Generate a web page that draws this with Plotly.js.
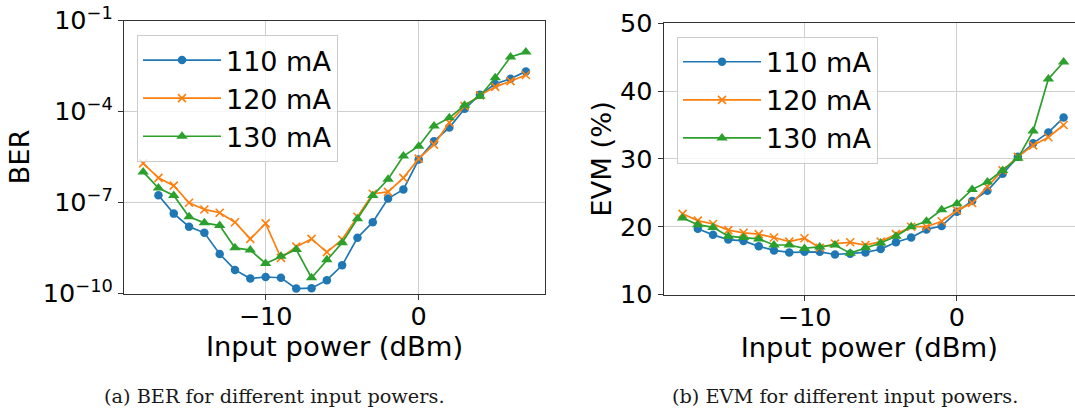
<!DOCTYPE html>
<html><head><meta charset="utf-8">
<script src="https://cdn.plot.ly/plotly-3.0.1.min.js"></script>
<style>html,body{margin:0;padding:0;background:#fff;overflow:hidden}</style>
</head><body>
<div id="chart" style="width:1075px;height:410px"></div>
<script>
// Input power (dBm)
const power = [-18,-17,-16,-15,-14,-13,-12,-11,-10,-9,-8,-7,-6,-5,-4,-3,-2,-1,0,1,2,3,4,5,6,7];
const seriesNames = ['110 mA', '120 mA', '130 mA'];

// BER (log scale)
const ber110 = [null,1.74e-7,4.3e-8,1.6e-8,1.0e-8,2.0e-9,6.0e-10,3.1e-10,3.5e-10,3.3e-10,1.45e-10,1.5e-10,2.75e-10,8.5e-10,6.9e-9,2.24e-8,1.35e-7,2.7e-7,2.6e-6,1.05e-5,2.95e-5,1.23e-4,3.6e-4,8.1e-4,1.2e-3,2.1e-3];
const ber120 = [1.95e-6,6.5e-7,3.6e-7,9.8e-8,5.9e-8,4.6e-8,2.24e-8,6.3e-9,2.04e-8,1.5e-9,3.5e-9,6.3e-9,2.3e-9,6.0e-9,3.4e-8,1.95e-7,2.24e-7,6.5e-7,2.8e-6,8.1e-6,4.3e-5,1.5e-4,3.4e-4,6.5e-4,1.0e-3,1.6e-3];
const ber130 = [1.02e-6,3.0e-7,1.7e-7,3.4e-8,2.14e-8,1.74e-8,3.2e-9,2.7e-9,9.8e-10,1.7e-9,2.8e-9,3.3e-10,1.3e-9,4.7e-9,2.9e-8,1.7e-7,5.8e-7,3.4e-6,7.2e-6,3.3e-5,6.2e-5,1.6e-4,3.2e-4,1.3e-3,6.3e-3,9.1e-3];

// EVM (%)
const evm110 = [null,19.7,18.8,18.1,17.9,17.1,16.5,16.2,16.3,16.3,15.9,16.0,16.2,16.7,17.7,18.4,19.6,20.1,22.2,23.8,25.3,27.8,30.3,32.3,33.9,36.1];
const evm120 = [21.9,20.9,20.4,19.5,19.1,18.9,18.4,17.8,18.3,16.9,17.5,17.7,17.3,17.8,18.9,20.0,20.0,20.8,22.4,23.5,25.9,28.3,30.3,32.0,33.2,35.0];
const evm130 = [21.3,20.3,19.9,18.6,18.4,18.2,17.3,17.3,16.8,17.0,17.3,16.1,16.9,17.6,18.6,20.0,20.8,22.5,23.4,25.5,26.6,28.3,30.1,34.1,41.8,44.3];

// Tick labels
const xTickVals = [-10, 0];
const xTickText = ['−10', '0'];
const berTickVals = [1e-10, 1e-7, 1e-4, 1e-1];
const berTickText = ['10<sup>−10</sup>', '10<sup>−7</sup>', '10<sup>−4</sup>', '10<sup>−1</sup>'];
const evmTickVals = [10, 20, 30, 40, 50];

const colors = ['#1f77b4', '#ff7f0e', '#2ca02c'];
const markers = [
  {symbol: 'circle', size: 8.5},
  {symbol: 'x-thin', size: 8, line: {width: 1.6}},
  {symbol: 'triangle-up', size: 10}
];

const W = 1075, H = 410;
const FONT = 'DejaVu Sans, sans-serif';
const tickFs = 25.5, titleFs = 27.4, legFs = 27;

function mk(y, i, xa, ya, leg) {
  const m = Object.assign({color: colors[i]}, markers[i]);
  if (m.line) m.line = Object.assign({}, m.line, {color: colors[i]});
  return {
    x: power, y: y, name: seriesNames[i], type: 'scatter', mode: 'lines+markers',
    xaxis: xa, yaxis: ya, legend: leg, legendgroup: leg + i,
    line: {color: colors[i], width: 1.7}, marker: m, connectgaps: false
  };
}

const data = [
  mk(ber110, 0, 'x', 'y', 'legend'), mk(ber120, 1, 'x', 'y', 'legend'), mk(ber130, 2, 'x', 'y', 'legend'),
  mk(evm110, 0, 'x2', 'y2', 'legend2'), mk(evm120, 1, 'x2', 'y2', 'legend2'), mk(evm130, 2, 'x2', 'y2', 'legend2')
];

const axCommon = {
  showline: true, linecolor: '#333', linewidth: 1,
  ticks: 'outside', ticklen: 5, tickwidth: 1, tickcolor: '#333',
  showgrid: true, gridcolor: '#cfcfcf', gridwidth: 1, zeroline: false,
  tickfont: {family: FONT, size: tickFs, color: '#000'},
  automargin: false
};

const legCommon = {
  font: {family: FONT, size: legFs, color: '#000'},
  bgcolor: 'rgba(255,255,255,0.8)', bordercolor: '#cccccc', borderwidth: 1,
  xanchor: 'left', yanchor: 'top', itemwidth: 78,
  traceorder: 'grouped', tracegroupgap: 0
};

const layout = {
  width: W, height: H,
  margin: {l: 0, r: 0, t: 0, b: 0},
  paper_bgcolor: '#fff', plot_bgcolor: '#fff',
  font: {family: FONT, size: tickFs, color: '#000'},
  showlegend: true,
  xaxis: Object.assign({}, axCommon, {
    domain: [124/W, 545/W], range: [-19.25, 8.25], mirror: true,
    tickmode: 'array', tickvals: xTickVals, ticktext: xTickText, ticklabelstandoff: -5,
    title: {text: 'Input power (dBm)', font: {family: FONT, size: titleFs}, standoff: 0},
    anchor: 'y'
  }),
  yaxis: Object.assign({}, axCommon, {
    domain: [1 - 293.5/H, 1 - 20.5/H], type: 'log', range: [-10, -1], mirror: true,
    tickmode: 'array', tickvals: berTickVals, ticktext: berTickText,
    title: {text: 'BER', font: {family: FONT, size: titleFs}, standoff: 5},
    anchor: 'x'
  }),
  xaxis2: Object.assign({}, axCommon, {
    domain: [663.5/W, 1], range: [-19.25, (W - 956.7)/15.27], mirror: true,
    tickmode: 'array', tickvals: xTickVals, ticktext: xTickText, ticklabelstandoff: -5,
    title: {text: 'Input power (dBm)', font: {family: FONT, size: titleFs}, standoff: 0},
    anchor: 'y2'
  }),
  yaxis2: Object.assign({}, axCommon, {
    domain: [1 - 294.5/H, 1 - 23.3/H], range: [10, 50], mirror: false,
    tickmode: 'array', tickvals: evmTickVals,
    title: {text: 'EVM (%)', font: {family: FONT, size: titleFs}, standoff: 0},
    anchor: 'x2'
  }),
  legend: Object.assign({}, legCommon, {x: 137/W, y: 1 - 35/H}),
  legend2: Object.assign({}, legCommon, {x: 677/W, y: 1 - 36.7/H}),
  annotations: [
    {text: '(a) BER for different input powers.', xref: 'paper', yref: 'paper',
     x: 274/W, y: 1 - 396/H, xanchor: 'center', yanchor: 'middle', showarrow: false,
     font: {family: 'DejaVu Serif, serif', size: 19.3, color: '#1a1a1a'}},
    {text: '(b) EVM for different input powers.', xref: 'paper', yref: 'paper',
     x: 845/W, y: 1 - 396/H, xanchor: 'center', yanchor: 'middle', showarrow: false,
     font: {family: 'DejaVu Serif, serif', size: 19.3, color: '#1a1a1a'}}
  ]
};

Plotly.newPlot('chart', data, layout, {displayModeBar: false, staticPlot: true});
</script>
</body></html>
